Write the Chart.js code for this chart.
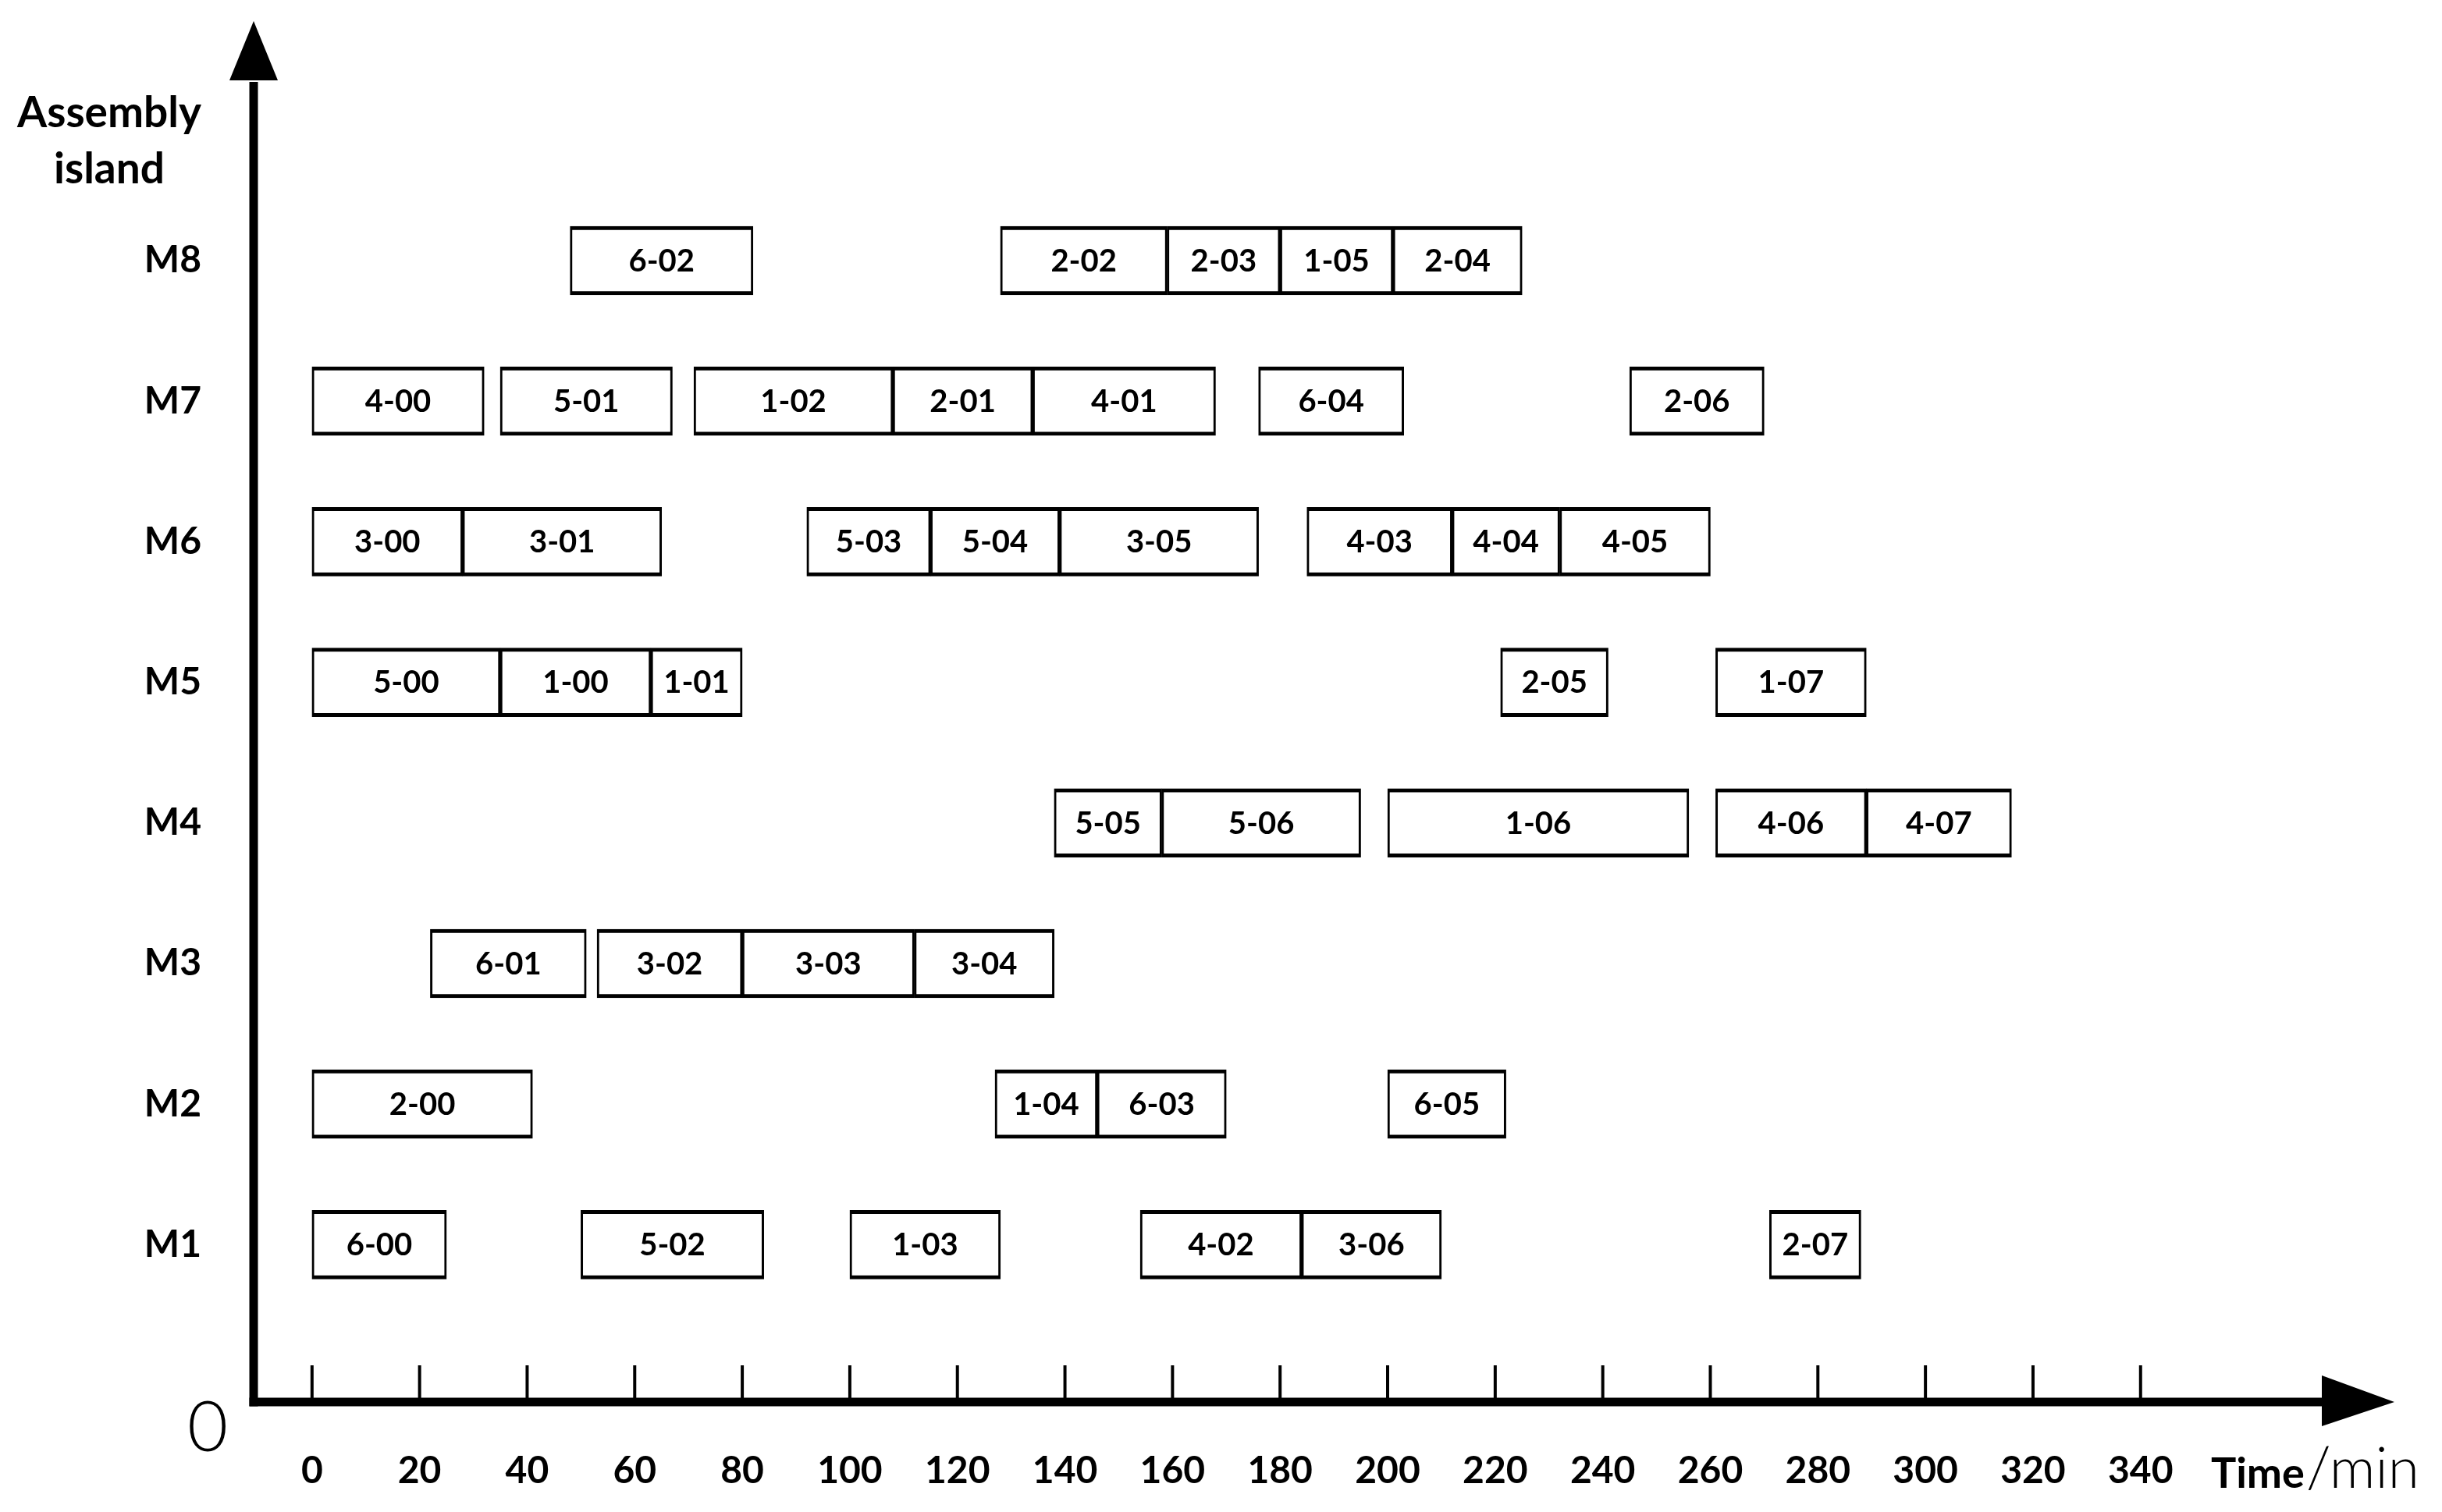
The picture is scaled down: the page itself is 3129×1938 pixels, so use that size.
<!DOCTYPE html>
<html>
<head>
<meta charset="utf-8">
<script src="https://cdn.jsdelivr.net/npm/chart.js@4.4.1/dist/chart.umd.min.js"></script>
<style>
  html, body { margin: 0; padding: 0; background: #fff; }
  #wrap { width: 3129px; height: 1938px; }
</style>
</head>
<body>
<div id="wrap"><canvas id="c" width="3129" height="1938"></canvas></div>
<script>
// ---- data ----
const machines = ['M1', 'M2', 'M3', 'M4', 'M5', 'M6', 'M7', 'M8'];
const timeTicks = [0, 20, 40, 60, 80, 100, 120, 140, 160, 180, 200, 220, 240, 260, 280, 300, 320, 340];

const taskLabels = [
  '6-02', '2-02', '2-03', '1-05', '2-04',
  '4-00', '5-01', '1-02', '2-01', '4-01', '6-04', '2-06',
  '3-00', '3-01', '5-03', '5-04', '3-05', '4-03', '4-04', '4-05',
  '5-00', '1-00', '1-01', '2-05', '1-07',
  '5-05', '5-06', '1-06', '4-06', '4-07',
  '6-01', '3-02', '3-03', '3-04',
  '2-00', '1-04', '6-03', '6-05',
  '6-00', '5-02', '1-03', '4-02', '3-06', '2-07'
];
const taskMachine = [
  'M8', 'M8', 'M8', 'M8', 'M8',
  'M7', 'M7', 'M7', 'M7', 'M7', 'M7', 'M7',
  'M6', 'M6', 'M6', 'M6', 'M6', 'M6', 'M6', 'M6',
  'M5', 'M5', 'M5', 'M5', 'M5',
  'M4', 'M4', 'M4', 'M4', 'M4',
  'M3', 'M3', 'M3', 'M3',
  'M2', 'M2', 'M2', 'M2',
  'M1', 'M1', 'M1', 'M1', 'M1', 'M1'
];
const taskStart = [
  48, 128, 159, 180, 201,
  0, 35, 71, 108, 134, 176, 245,
  0, 28, 92, 115, 139, 185, 212, 232,
  0, 35, 63, 221, 261,
  138, 158, 200, 261, 289,
  22, 53, 80, 112,
  0, 127, 146, 200,
  0, 50, 100, 154, 184, 271
];
const taskEnd = [
  82, 159, 180, 201, 225,
  32, 67, 108, 134, 168, 203, 270,
  28, 65, 115, 139, 176, 212, 232, 260,
  35, 63, 80, 241, 289,
  158, 195, 256, 289, 316,
  51, 80, 112, 138,
  41, 146, 170, 222,
  25, 84, 128, 184, 210, 288
];

const FONT = "Lato, 'Open Sans', 'DejaVu Sans', sans-serif";

const barData = taskLabels.map((lab, i) => ({
  x: [taskStart[i], taskEnd[i]],
  y: machines.indexOf(taskMachine[i]) + 1
}));

const barText = {
  id: 'barText',
  afterDatasetsDraw(chart) {
    const ctx = chart.ctx;
    const meta = chart.getDatasetMeta(0);
    ctx.save();
    ctx.fillStyle = '#000';
    ctx.textAlign = 'center';
    ctx.textBaseline = 'middle';
    ctx.font = "bold 40px " + FONT;
    meta.data.forEach((el, i) => {
      const p = el.getProps(['x', 'base', 'y'], true);
      ctx.fillText(taskLabels[i], (p.x + p.base) / 2, p.y + 1);
    });
    ctx.restore();
  }
};

const axisDecor = {
  id: 'axisDecor',
  afterDraw(chart) {
    const ctx = chart.ctx;
    const { left, right, top, bottom } = chart.chartArea;
    const xs = chart.scales.x;
    ctx.save();
    ctx.fillStyle = '#000';
    ctx.strokeStyle = '#000';
    ctx.lineCap = 'butt';
    // axis lines
    ctx.lineWidth = 11;
    ctx.beginPath();
    ctx.moveTo(left + 1, bottom + 5.5);
    ctx.lineTo(left + 1, top + 2);
    ctx.stroke();
    ctx.beginPath();
    ctx.moveTo(left - 4.5, bottom);
    ctx.lineTo(right + 2, bottom);
    ctx.stroke();
    // arrow heads
    ctx.beginPath();
    ctx.moveTo(left + 1 - 31, top);
    ctx.lineTo(left + 1 + 31, top);
    ctx.lineTo(left + 1, top - 76);
    ctx.closePath();
    ctx.fill();
    ctx.beginPath();
    ctx.moveTo(right, bottom - 34);
    ctx.lineTo(right, bottom + 31);
    ctx.lineTo(right + 93, bottom);
    ctx.closePath();
    ctx.fill();
    // tick marks pointing up
    ctx.lineWidth = 4;
    xs.ticks.forEach(t => {
      const px = xs.getPixelForValue(t.value);
      ctx.beginPath();
      ctx.moveTo(px, bottom - 47);
      ctx.lineTo(px, bottom);
      ctx.stroke();
    });
    // axis titles
    ctx.textAlign = 'center';
    ctx.textBaseline = 'alphabetic';
    ctx.font = "bold 55px " + FONT;
    ctx.fillText('Assembly', 140, 163);
    ctx.fillText('island', 140, 235);
    ctx.font = "300 90px " + FONT;
    ctx.fillText('0', 266, 1860);
    ctx.textAlign = 'left';
    ctx.font = "bold 54px " + FONT;
    ctx.fillText('Time', 2833, 1907);
    const w = ctx.measureText('Time').width;
    ctx.font = "300 73px " + FONT;
    ctx.fillText('/min', 2833 + w + 2, 1907);
    ctx.restore();
  }
};

new Chart(document.getElementById('c'), {
  type: 'bar',
  data: {
    datasets: [{
      data: barData,
      backgroundColor: '#ffffff',
      borderColor: '#000000',
      borderWidth: { top: 5, bottom: 5, left: 3, right: 3 },
      borderSkipped: false,
      barThickness: 88
    }]
  },
  options: {
    indexAxis: 'y',
    responsive: false,
    animation: false,
    devicePixelRatio: 1,
    layout: { padding: { top: 103, right: 154, left: 0, bottom: 0 } },
    plugins: { legend: { display: false }, tooltip: { enabled: false }, title: { display: false } },
    scales: {
      x: {
        type: 'linear',
        offset: false,
        min: -11,
        max: 373.7,
        afterFit(scale) { scale.height = 141; },
        afterBuildTicks(scale) { scale.ticks = timeTicks.map(v => ({ value: v })); },
        grid: { display: false, drawTicks: false },
        border: { display: false },
        ticks: {
          padding: 60,
          color: '#000',
          autoSkip: false,
          maxRotation: 0,
          font: { family: FONT, size: 48, weight: 'bold' }
        }
      },
      y: {
        type: 'linear',
        offset: false,
        min: -0.119,
        max: 9.282,
        afterFit(scale) { scale.width = 324; },
        afterBuildTicks(scale) { scale.ticks = machines.map((m, i) => ({ value: i + 1 })); },
        grid: { display: false, drawTicks: false },
        border: { display: false },
        ticks: {
          padding: 66,
          color: '#000',
          autoSkip: false,
          font: { family: FONT, size: 48, weight: 'bold' },
          callback: (v) => machines[v - 1]
        }
      }
    }
  },
  plugins: [barText, axisDecor]
});
</script>
</body>
</html>
